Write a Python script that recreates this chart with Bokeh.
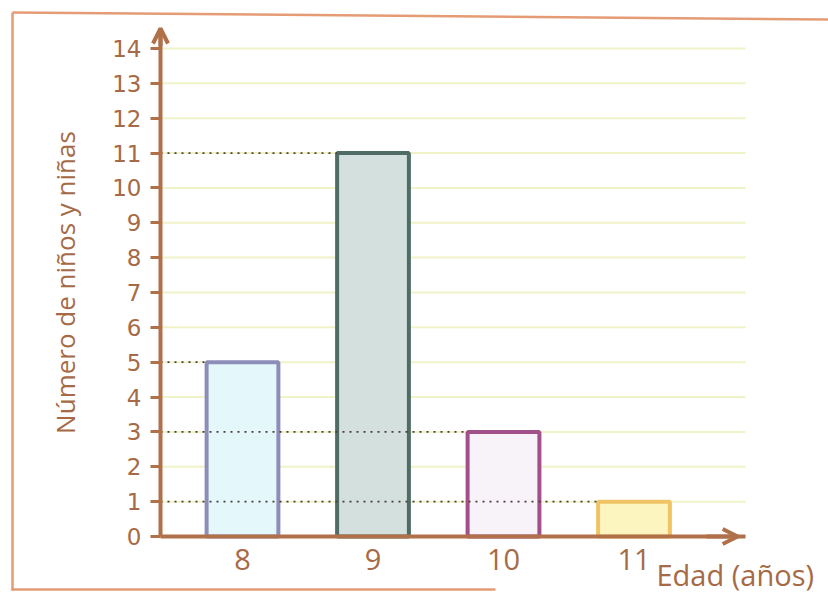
from bokeh.plotting import figure
from bokeh.models import Range1d, Arrow, OpenHead, Label, FixedTicker, ColumnDataSource
from bokeh.embed import file_html
from bokeh.resources import INLINE

# ---- data ----
ages = [8, 9, 10, 11]
counts = [5, 11, 3, 1]
age_labels = ["8", "9", "10", "11"]
y_ticks = list(range(0, 15))
fill_colors = ["#e4f7fb", "#d3e0dd", "#f8f3f8", "#fcf5c0"]
line_colors = ["#8d8db9", "#4f6d66", "#a2508a", "#f0c464"]
x_title = "Edad (años)"
y_title = "Número de niños y niñas"

BROWN = "#b0714a"
TEXT = "#a66a46"
BORDER = "#e59b74"
BAR_W = 0.55

# whole canvas is the frame; axes are pinned inside it
W, H = 828, 593
PX = 130.5          # pixels per age unit
PY = 34.86          # pixels per count unit
XL = 8 - 242 / PX   # canvas left
XR = XL + W / PX
YT = 536 / PY       # canvas top
YB = YT - H / PY
AX_X = 8 - 82 / PX  # where the y axis stands
AX_END = 8 + 503 / PX
Y_TOP = 508 / PY

def dx(fx):
    return XL + fx / PX

def dy(fy):
    return YT - fy / PY

p = figure(width=W, height=H, x_range=Range1d(XL, XR), y_range=Range1d(YB, YT),
           output_backend="svg", toolbar_location=None,
           min_border_left=0, min_border_right=0, min_border_top=0, min_border_bottom=0)
p.outline_line_color = None
p.background_fill_color = "white"
p.border_fill_color = "white"
p.xgrid.grid_line_color = None
p.ygrid.grid_line_color = None

# grid lines (horizontal, from axis to the right end)
p.segment(x0=[AX_X] * len(y_ticks), y0=y_ticks, x1=[AX_END] * len(y_ticks), y1=y_ticks,
          line_color="#f0f2c8", line_width=2)

# y axis
ya = p.yaxis[0]
ya.fixed_location = AX_X
ya.bounds = (0, Y_TOP)
ya.ticker = FixedTicker(ticks=y_ticks)
ya.axis_line_color = BROWN
ya.axis_line_width = 4
ya.major_tick_line_color = BROWN
ya.major_tick_line_width = 3
ya.major_tick_out = 10
ya.major_tick_in = 0
ya.minor_tick_line_color = None
ya.major_label_standoff = 9
ya.major_label_text_font = "DejaVu Sans"
ya.major_label_text_font_size = "23px"
ya.major_label_text_color = TEXT
ya.axis_label = y_title
ya.axis_label_text_font = "Open Sans"
ya.axis_label_text_font_size = "26px"
ya.axis_label_text_font_style = "normal"
ya.axis_label_text_color = TEXT
ya.axis_label_standoff = 26

# x axis
xa = p.xaxis[0]
xa.fixed_location = 0
xa.bounds = (AX_X, AX_END)
xa.ticker = FixedTicker(ticks=ages)
xa.major_label_overrides = {a: s for a, s in zip(ages, age_labels)}
xa.axis_line_color = BROWN
xa.axis_line_width = 4
xa.major_tick_line_color = None
xa.minor_tick_line_color = None
xa.major_label_standoff = 6
xa.major_label_text_font = "Open Sans"
xa.major_label_text_font_size = "29px"
xa.major_label_text_color = TEXT

# bars
src = ColumnDataSource(dict(x=ages, top=counts, fill=fill_colors, line=line_colors))
p.vbar(x="x", top="top", bottom=0, width=BAR_W, source=src,
       fill_color="fill", line_color="line", line_width=4)

# dotted reference lines from the y axis to each bar
p.segment(x0=[AX_X] * len(ages), y0=counts, x1=[a - BAR_W / 2 for a in ages], y1=counts,
          line_color="#4a3e3a", line_width=1.8, line_dash="2 5")

# axis arrowheads
p.add_layout(Arrow(x_start=AX_X, y_start=Y_TOP - 0.5, x_end=AX_X, y_end=Y_TOP,
                   line_color=BROWN, line_width=4,
                   end=OpenHead(size=15, line_color=BROWN, line_width=4)))
p.add_layout(Arrow(x_start=AX_END - 0.3, y_start=0, x_end=AX_END - 0.06, y_end=0,
                   line_color=BROWN, line_width=4,
                   end=OpenHead(size=15, line_color=BROWN, line_width=4)))

# x title
p.add_layout(Label(x=dx(656), y=dy(574), text=x_title, text_font="Open Sans",
                   text_font_size="29px", text_color=TEXT, text_baseline="middle"))

# page border (top, left, bottom)
p.segment(x0=[dx(12), dx(12), dx(11)], y0=[dy(12), dy(12), dy(589)],
          x1=[dx(828), dx(12), dx(495)], y1=[dy(19), dy(590), dy(589)],
          line_color=BORDER, line_width=2.5)

open("out.html", "w").write(file_html(p, INLINE))
